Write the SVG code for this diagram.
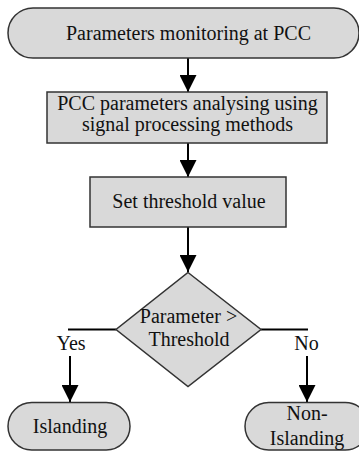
<svg xmlns="http://www.w3.org/2000/svg" width="359" height="451" viewBox="0 0 359 451">
  <style>
    .shape { fill: #d9d9d9; stroke: #333333; stroke-width: 1.5; }
    .wire { fill: none; stroke: #000000; stroke-width: 2; }
  </style>
  <defs>
    <marker id="arrowhead" markerUnits="userSpaceOnUse" markerWidth="18" markerHeight="17" refX="17" refY="8.5" orient="auto">
      <path d="M0,0 L17,8.5 L0,17 Z" fill="#000000"/>
    </marker>
  </defs>

  <g font-family="Liberation Serif, Times New Roman, serif" font-size="20" fill="#111111" text-anchor="middle">
  <!-- connectors -->
  <g id="connectors">
    <line class="wire" x1="188" y1="58" x2="188" y2="92" marker-end="url(#arrowhead)"/>
    <line class="wire" x1="188" y1="143" x2="188" y2="177" marker-end="url(#arrowhead)"/>
    <line class="wire" x1="188" y1="227" x2="188" y2="272" marker-end="url(#arrowhead)"/>
    <polyline class="wire" points="116,329.5 68,329.5"/>
    <line class="wire" x1="70" y1="356" x2="70" y2="402" marker-end="url(#arrowhead)"/>
    <polyline class="wire" points="261,329.5 308,329.5"/>
    <line class="wire" x1="307" y1="356" x2="307" y2="402" marker-end="url(#arrowhead)"/>
    <text x="71" y="350">Yes</text>
    <text x="306.5" y="350">No</text>
  </g>

  <g id="start">
    <rect class="shape" x="8" y="8" width="351" height="50" rx="25" ry="25"/>
    <text x="188.5" y="39.5">Parameters monitoring at PCC</text>
  </g>

  <g id="analyse">
    <rect class="shape" x="47" y="92" width="280" height="51"/>
    <text x="187.5" y="110">PCC parameters analysing using</text>
    <text x="187.5" y="131">signal processing methods</text>
  </g>

  <g id="threshold">
    <rect class="shape" x="90" y="177" width="196" height="50"/>
    <text x="189" y="208">Set threshold value</text>
  </g>

  <g id="decision">
    <polygon class="shape" points="188,272.5 261,329.5 188,386.5 116,329.5"/>
    <text x="188.5" y="323">Parameter &gt;</text>
    <text x="189" y="346">Threshold</text>
  </g>

  <g id="islanding">
    <rect class="shape" x="8" y="402.5" width="122" height="47.5" rx="23.75" ry="23.75"/>
    <text x="70" y="433">Islanding</text>
  </g>

  <g id="non-islanding">
    <rect class="shape" x="245" y="402.5" width="124" height="47.5" rx="23.75" ry="23.75"/>
    <text x="307" y="420">Non-</text>
    <text x="307" y="445">Islanding</text>
  </g>
  </g>
</svg>
